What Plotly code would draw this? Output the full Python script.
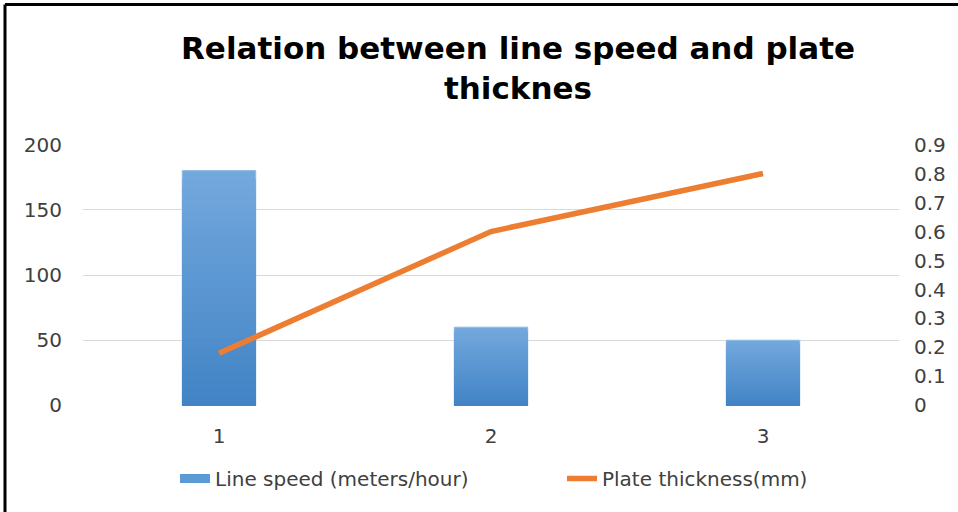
import plotly.graph_objects as go

# Data
categories = ["1", "2", "3"]
line_speed = [180, 60, 50]          # meters/hour
plate_thickness = [0.18, 0.6, 0.8]  # mm

left_ticks = [0, 50, 100, 150, 200]
right_ticks = [0, 0.1, 0.2, 0.3, 0.4, 0.5, 0.6, 0.7, 0.8, 0.9]

# Page geometry
W, H = 958, 512
M_L, M_R, M_T, M_B = 83, 59, 144, 106
plot_w = W - M_L - M_R
plot_h = H - M_T - M_B

FONT = "DejaVu Sans"
TEXT = "#404040"
BLUE = "#5b9bd5"
ORANGE = "#ed7d31"

# Small padding so the gridlines at 0 and 200 stay visible
pad = 0.4
y_range = [-pad, 200 + pad]
ratio = 0.9 / 200
y2_range = [y_range[0] * ratio, y_range[1] * ratio]

fig = go.Figure()

# Vertical gradient inside each bar: overlay shrinking bars, lighter at the top
N = 28
top_rgb = (0x73, 0xa8, 0xdd)
bot_rgb = (0x42, 0x84, 0xc6)
for k in range(N):
    t = k / (N - 1)
    rgb = tuple(round(a + (b - a) * t) for a, b in zip(top_rgb, bot_rgb))
    frac = (N - k) / N
    fig.add_trace(go.Bar(
        x=categories,
        y=[v * frac for v in line_speed],
        name="Line speed (meters/hour)",
        marker=dict(color="rgb(%d,%d,%d)" % rgb,
                    line=dict(width=1 if k == 0 else 0, color="#8fbbe6")),
        width=0.27,
        showlegend=False,
        hoverinfo="skip" if k else None,
        yaxis="y",
    ))

# Legend key for the bars: a thick flat swatch
fig.add_trace(go.Scatter(
    x=[None], y=[None], mode="lines",
    name="Line speed (meters/hour)",
    line=dict(color=BLUE, width=9),
    yaxis="y",
))

fig.add_trace(go.Scatter(
    x=categories,
    y=plate_thickness,
    name="Plate thickness(mm)",
    mode="lines",
    line=dict(color=ORANGE, width=5.5),
    yaxis="y2",
))

# Border along the top and left edges of the page
bx = (5 - M_L) / plot_w
by = 1 + (M_T - 4.5) / plot_h
fig.add_shape(type="line", xref="paper", yref="paper", x0=bx, x1=bx + W / plot_w,
              y0=by, y1=by, line=dict(color="black", width=3))
fig.add_shape(type="line", xref="paper", yref="paper", x0=bx, x1=bx,
              y0=by, y1=by - H / plot_h, line=dict(color="black", width=3))

# Two-line bold title
fig.add_annotation(
    text="<b>Relation between line speed and plate<br>thicknes</b>",
    xref="paper", yref="paper",
    x=(518 - M_L) / plot_w, xanchor="center",
    y=1 + (M_T - 28) / plot_h, yanchor="top",
    showarrow=False, align="center",
    font=dict(family=FONT, size=31, color="black"),
)

fig.update_layout(
    width=W, height=H,
    margin=dict(l=M_L, r=M_R, t=M_T, b=M_B),
    paper_bgcolor="white", plot_bgcolor="white",
    barmode="overlay",
    font=dict(family=FONT, color=TEXT, size=20),
    xaxis=dict(
        type="category",
        showgrid=False, showline=False, zeroline=False,
        ticks="", ticklabelstandoff=16,
        tickfont=dict(size=20, color=TEXT),
    ),
    yaxis=dict(
        range=y_range, tickvals=left_ticks,
        showgrid=True, gridcolor="#d9d9d9", gridwidth=1,
        zeroline=False, showline=False, ticks="",
        ticklabelstandoff=20,
        tickfont=dict(size=20, color=TEXT),
    ),
    yaxis2=dict(
        range=y2_range, tickvals=right_ticks,
        ticktext=["0" if v == 0 else f"{v:g}" for v in right_ticks],
        overlaying="y", side="right",
        showgrid=False, zeroline=False, showline=False, ticks="",
        ticklabelstandoff=14,
        tickfont=dict(size=20, color=TEXT),
    ),
    legend=dict(
        orientation="h",
        x=175 / W, xanchor="left", xref="container",
        y=1 - 459 / H, yanchor="top", yref="container",
        font=dict(size=20, color=TEXT),
        entrywidth=342, entrywidthmode="pixels",
        traceorder="normal",
    ),
    showlegend=True,
)

fig.write_html("out.html")
